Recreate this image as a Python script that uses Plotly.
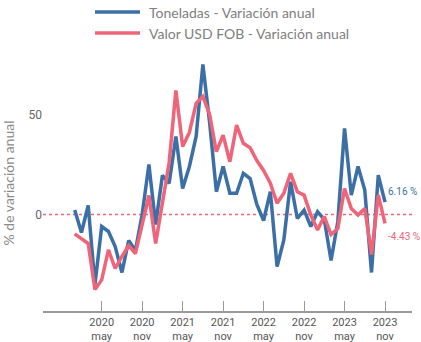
import plotly.graph_objects as go

# Monthly year-on-year variation, Jan 2020 - Nov 2023
months = [
    "2020-01", "2020-02", "2020-03", "2020-04", "2020-05", "2020-06", "2020-07", "2020-08",
    "2020-09", "2020-10", "2020-11", "2020-12", "2021-01", "2021-02", "2021-03", "2021-04",
    "2021-05", "2021-06", "2021-07", "2021-08", "2021-09", "2021-10", "2021-11", "2021-12",
    "2022-01", "2022-02", "2022-03", "2022-04", "2022-05", "2022-06", "2022-07", "2022-08",
    "2022-09", "2022-10", "2022-11", "2022-12", "2023-01", "2023-02", "2023-03", "2023-04",
    "2023-05", "2023-06", "2023-07", "2023-08", "2023-09", "2023-10", "2023-11",
]

toneladas = [
    2.2, -9, 4.5, -35, -6, -8.5, -16, -29, -13, -18, 0, 25,
    -5, 19.5, 15.6, 39, 13, 24, 39, 75, 46, 11.4, 24, 10.6,
    10.6, 20.6, 18, 5, -3, 11.4, -26, -12.7, 16.4, -2, 2.2, -6,
    1.4, -2.5, -23, -3.6, 43, 9.7, 24, 12.2, -29, 19.7, 6.16,
]

valor_fob = [
    -9.7, -12, -14.5, -37.5, -32.7, -17.7, -27, -21, -15.5, -19.5, -4, 9.5,
    -14.5, 5, 26, 62, 34, 41, 55.6, 59, 50, 31.4, 39.7, 26.4,
    44.7, 35.6, 33.4, 27, 22, 15.6, 5.6, 10.6, 20.6, 11.4, 9.7, -0.3,
    -7.7, -1, -10, -7, 13, 3, -0.3, 3, -20, 9.7, -4.43,
]

tick_months = ["2020-05", "2020-11", "2021-05", "2021-11", "2022-05", "2022-11", "2023-05", "2023-11"]
tick_labels = ["2020<br>may", "2020<br>nov", "2021<br>may", "2021<br>nov",
               "2022<br>may", "2022<br>nov", "2023<br>may", "2023<br>nov"]

series_names = ["Toneladas - Variación anual", "Valor USD FOB - Variación anual"]

BLUE = "#3b6fa6"
RED = "#ef6479"
SANS = "Lato, Open Sans, sans-serif"
NARROW = "Liberation Sans Narrow, Roboto, sans-serif"

W, H = 421, 342
ML, MR, MT, MB = 43, 9, 55, 31

x = list(range(len(months)))
tick_pos = [months.index(m) for m in tick_months]

fig = go.Figure()
colors = [BLUE, RED]
for name, values, color in zip(series_names, [toneladas, valor_fob], colors):
    fig.add_trace(go.Scatter(x=x, y=values, mode="lines", name=name,
                             line=dict(color=color, width=3.5), showlegend=False))

# dotted zero reference line
fig.add_shape(type="line", xref="paper", x0=0, x1=1, yref="y", y0=0, y1=0,
              line=dict(color=RED, width=1.5, dash="dot"), layer="below")


def px_to_paper(px, py):
    return (px - ML) / (W - ML - MR), (H - MB - py) / (H - MT - MB)


# legend drawn above the plot: a line sample and its label per series
for row, (name, color) in enumerate(zip(series_names, colors)):
    py = 12 + 21 * row
    lx0, ly = px_to_paper(95, py)
    lx1, _ = px_to_paper(140, py)
    tx, _ = px_to_paper(147, py)
    fig.add_shape(type="line", xref="paper", yref="paper", x0=lx0, x1=lx1, y0=ly, y1=ly,
                  line=dict(color=color, width=3.5))
    fig.add_annotation(xref="paper", yref="paper", x=tx, y=ly, text=name, showarrow=False,
                       xanchor="left", yanchor="middle",
                       font=dict(family=SANS, size=14, color="#808080"))

# end-of-series value labels
last = len(months) - 1
fig.add_annotation(x=last, y=toneladas[-1], text=f"{toneladas[-1]:.2f} %", showarrow=False,
                   xanchor="left", xshift=1, yshift=11,
                   font=dict(family=NARROW, size=10, color=BLUE))
fig.add_annotation(x=last, y=valor_fob[-1], text=f"{valor_fob[-1]:.2f} %", showarrow=False,
                   xanchor="left", xshift=1, yshift=-13,
                   font=dict(family=NARROW, size=10, color=RED))

fig.update_layout(
    width=W, height=H,
    margin=dict(l=ML, r=MR, t=MT, b=MB, autoexpand=False),
    paper_bgcolor="white", plot_bgcolor="white",
    showlegend=False,
    xaxis=dict(range=[-4.7, 50], tickmode="array", tickvals=tick_pos, ticktext=tick_labels,
               automargin=False,
               showgrid=False, zeroline=False, showline=True, linecolor="#9a9a9a", linewidth=1.5,
               ticks="inside", ticklen=10, tickcolor="#9a9a9a", tickwidth=1,
               tickfont=dict(family=NARROW, size=11, color="#555555")),
    yaxis=dict(range=[-48.25, 79.75], tickmode="array", tickvals=[0, 50], automargin=False,
               showgrid=False, zeroline=False, showline=False, ticks="",
               tickfont=dict(family=NARROW, size=12, color="#666666"),
               title=dict(text="% de variación anual",
                          font=dict(family=SANS, size=14, color="#8a8a8a"))),
)

fig.write_html("out.html")
